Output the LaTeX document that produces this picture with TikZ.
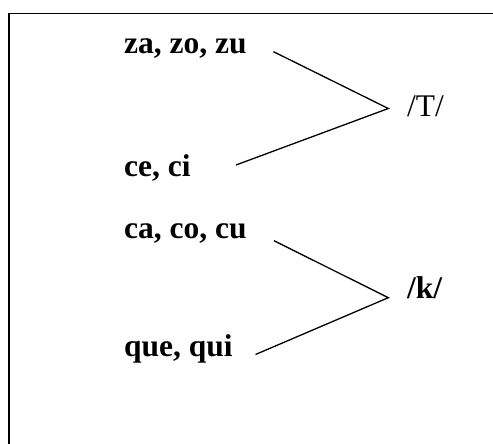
\documentclass[tikz,border=0pt]{standalone}
\usepackage{fontspec}
\setmainfont{Liberation Serif}
\begin{document}
\begin{tikzpicture}[x=1pt,y=-1pt,
  lbl/.style={anchor=base west,inner sep=0pt,font=\fontsize{31.5}{36}\selectfont\bfseries},
  phon/.style={anchor=base west,inner sep=0pt,font=\fontsize{31.5}{36}\selectfont},
  conn/.style={line width=1.3pt,line cap=butt}]
\useasboundingbox (0,0) rectangle (493,444);
\draw[line width=1.6pt] (9,444) -- (9,13.5) -- (493,13.5);
\node[lbl] (za) at (124,53.5) {za, zo, zu};
\node[lbl] (ce) at (124,176.7) {ce, ci};
\node[lbl] (ca) at (124,238) {ca, co, cu};
\node[lbl] (que) at (124,356.7) {que, qui};
\node[phon] (T) at (407,116.7) {/T/};
\node[lbl] (k) at (407,298.5) {/k/};
\coordinate (a1) at (273.5,51.7);
\coordinate (v1) at (388.3,108.5);
\coordinate (b1) at (236,165);
\coordinate (a2) at (274,240.7);
\coordinate (v2) at (388.3,297.7);
\coordinate (b2) at (255.5,354.5);
\draw[conn] (a1) -- (v1) -- (b1);
\draw[conn] (a2) -- (v2) -- (b2);
\end{tikzpicture}
\end{document}
